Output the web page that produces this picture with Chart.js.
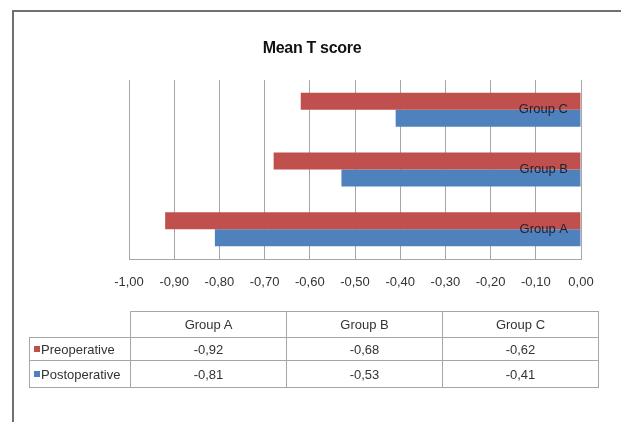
<!DOCTYPE html>
<html>
<head>
<meta charset="utf-8">
<script src="https://cdn.jsdelivr.net/npm/chart.js@4"></script>
<style>
    html, body { margin: 0; padding: 0; background: #fff; overflow: hidden; }
    body { width: 621px; height: 422px; position: relative; font-family: "Liberation Sans", Arial, sans-serif; }
    .frame { position: absolute; left: 12px; top: 10px; width: 700px; height: 500px;
        border-left: 2px solid #707070; border-top: 2px solid #707070; }
    #general-chart { position: absolute; left: 0; top: 0; }
    .chart-title { position: absolute; left: 212px; width: 200px; top: 39px; text-align: center;
        font-weight: bold; font-size: 16px; color: #111; letter-spacing: -0.3px; }
    .data-table { position: absolute; left: 29px; top: 311px; border-collapse: collapse;
        font-size: 13px; color: #333; }
    .data-table td { border: 1px solid #a6a6a6; padding: 0; text-align: center; width: 155px; }
    .data-table td.name { width: 96px; text-align: left; padding-left: 4px; }
    .data-table td.blank { border-top: none; border-left: none; }
    .data-table tr.head td { height: 25px; }
    .data-table tr.row td { height: 22px; }
    .data-table tr.row:last-child td { height: 26px; }
    .mark { display: inline-block; width: 6px; height: 6px; margin-right: 1px; vertical-align: 2px; }
</style>
</head>
<body>
<div class="frame"></div>
<canvas id="general-chart" width="621" height="422"></canvas>
<div class="chart-title" id="chart-title"></div>
<table class="data-table" id="data-table"></table>
<script>
const chartTitle = 'Mean T score';
const categories = ['Group A', 'Group B', 'Group C'];
const preoperative = [-0.92, -0.68, -0.62];
const postoperative = [-0.81, -0.53, -0.41];
const xTickLabels = ['-1,00', '-0,90', '-0,80', '-0,70', '-0,60', '-0,50', '-0,40', '-0,30', '-0,20', '-0,10', '0,00'];

const redColor = '#c0504d';
const blueColor = '#4f81bd';

document.getElementById('chart-title').textContent = chartTitle;

// data table under the chart
const fmt = v => v.toFixed(2).replace('.', ',');
const table = document.getElementById('data-table');
let html = '<tr class="head"><td class="name blank"></td>';
categories.forEach(c => { html += '<td>' + c + '</td>'; });
html += '</tr>';
[['Preoperative', preoperative, redColor], ['Postoperative', postoperative, blueColor]].forEach(function (s) {
    html += '<tr class="row"><td class="name"><span class="mark" style="background:' + s[2] + '"></span>' + s[0] + '</td>';
    s[1].forEach(v => { html += '<td>' + fmt(v) + '</td>'; });
    html += '</tr>';
});
table.innerHTML = html;

// chart
const ctx = document.getElementById('general-chart');
const data = {
    labels: categories,
    datasets: [{
        label: 'Preoperative',
        data: preoperative,
        backgroundColor: redColor,
        borderWidth: 0
    }, {
        label: 'Postoperative',
        data: postoperative,
        backgroundColor: blueColor,
        borderWidth: 0
    }]
};

const config = {
    type: 'bar',
    data: data,
    options: {
        indexAxis: 'y',
        responsive: false,
        animation: false,
        categoryPercentage: 0.57,
        barPercentage: 1.0,
        layout: {
            padding: { left: 129, right: 40, top: 80, bottom: 123 }
        },
        plugins: {
            legend: { display: false },
            title: { display: false },
            tooltip: { enabled: false }
        },
        scales: {
            x: {
                min: -1,
                max: 0,
                ticks: {
                    stepSize: 0.1,
                    padding: 16,
                    color: '#333',
                    font: { family: 'Liberation Sans', size: 13 },
                    callback: (v, i) => xTickLabels[i]
                },
                grid: { color: '#a6a6a6', drawTicks: false },
                border: { color: '#a6a6a6' },
                afterFit: scale => { scale.height = 40; }
            },
            y: {
                position: 'right',
                reverse: true,
                ticks: {
                    mirror: true,
                    z: 1,
                    padding: -13,
                    color: '#1e2230',
                    font: { family: 'Liberation Sans', size: 13 }
                },
                grid: { display: false },
                border: { display: false },
                afterFit: scale => { scale.width = 0; }
            }
        }
    }
};

new Chart(ctx, config);
</script>
</body>
</html>
